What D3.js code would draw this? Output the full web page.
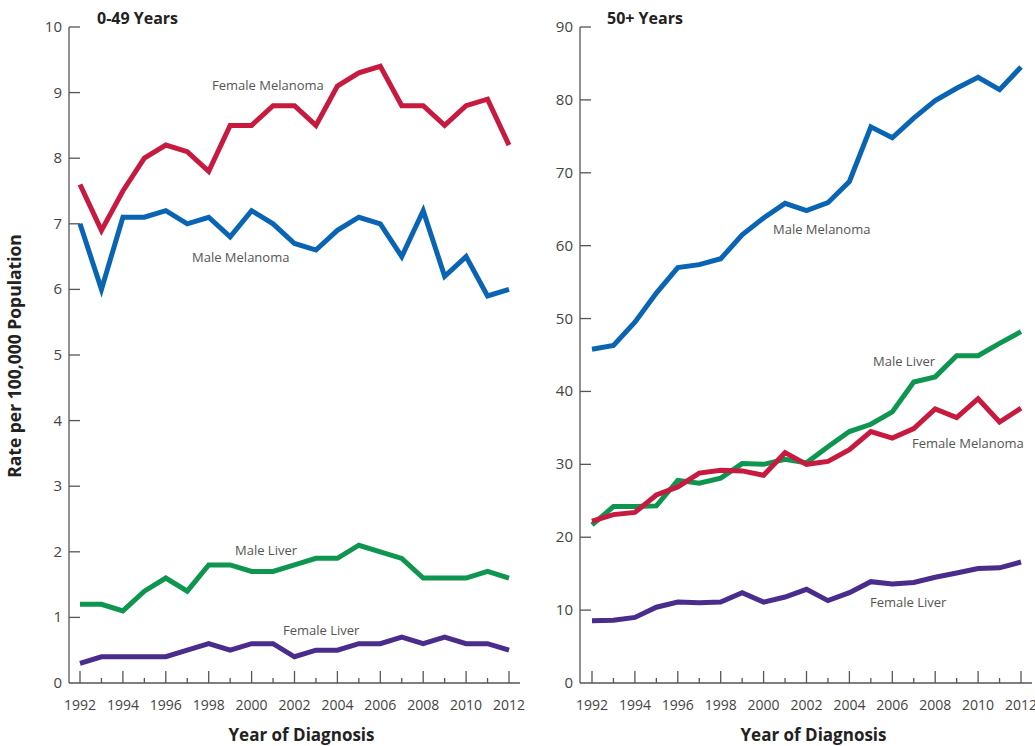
<!DOCTYPE html>
<html><head><meta charset="utf-8">
<script src="https://cdn.jsdelivr.net/npm/d3@7"></script>
<style>body{margin:0;background:#fff;} svg{display:block;}</style>
</head><body>
<svg id="c" width="1035" height="746"></svg>
<script>
const years = d3.range(1992, 2013);
const xTickLabels = [1992,1994,1996,1998,2000,2002,2004,2006,2008,2010,2012];
const leftYTicks = [0,1,2,3,4,5,6,7,8,9,10];
const rightYTicks = [0,10,20,30,40,50,60,70,80,90];

// 0-49 Years
const youngFemaleMelanoma = [7.6,6.9,7.5,8.0,8.2,8.1,7.8,8.5,8.5,8.8,8.8,8.5,9.1,9.3,9.4,8.8,8.8,8.5,8.8,8.9,8.2];
const youngMaleMelanoma   = [7.0,6.0,7.1,7.1,7.2,7.0,7.1,6.8,7.2,7.0,6.7,6.6,6.9,7.1,7.0,6.5,7.2,6.2,6.5,5.9,6.0];
const youngMaleLiver      = [1.2,1.2,1.1,1.4,1.6,1.4,1.8,1.8,1.7,1.7,1.8,1.9,1.9,2.1,2.0,1.9,1.6,1.6,1.6,1.7,1.6];
const youngFemaleLiver    = [0.3,0.4,0.4,0.4,0.4,0.5,0.6,0.5,0.6,0.6,0.4,0.5,0.5,0.6,0.6,0.7,0.6,0.7,0.6,0.6,0.5];

// 50+ Years
const oldMaleMelanoma   = [45.8,46.3,49.5,53.5,57.0,57.4,58.2,61.5,63.8,65.8,64.8,65.9,68.8,76.3,74.8,77.5,79.9,81.6,83.1,81.4,84.5];
const oldMaleLiver      = [21.7,24.2,24.2,24.3,27.8,27.4,28.1,30.1,30.0,30.7,30.2,32.4,34.5,35.5,37.2,41.3,42.0,44.9,44.9,46.6,48.2];
const oldFemaleMelanoma = [22.2,23.1,23.4,25.8,26.9,28.8,29.2,29.1,28.5,31.6,30.0,30.4,32.0,34.5,33.6,34.9,37.6,36.4,39.0,35.8,37.7];
const oldFemaleLiver    = [8.55,8.6,9.0,10.4,11.1,11.0,11.1,12.4,11.1,11.8,12.85,11.3,12.4,13.9,13.6,13.8,14.5,15.1,15.7,15.8,16.6];

const colors = {fm:"#c8193f", mm:"#0a64b4", ml:"#0e9650", fl:"#4a2c8c"};

const svg = d3.select("#c");
const FONT = "'Open Sans', 'Noto Sans', sans-serif";

function panel(cfg){
  const g = svg.append("g");
  const x = d3.scaleLinear().domain([1992,2012]).range([cfg.x0, cfg.x1]);
  const y = d3.scaleLinear().domain([0, cfg.ymax]).range([683, 27]);
  const axisColor = "#555";
  g.append("line").attr("x1",cfg.ax).attr("x2",cfg.ax).attr("y1",y(cfg.ymax)).attr("y2",683)
    .attr("stroke",axisColor).attr("stroke-width",1.3);
  g.append("line").attr("x1",cfg.ax).attr("x2",cfg.x1+11).attr("y1",683).attr("y2",683)
    .attr("stroke",axisColor).attr("stroke-width",1.3);
  cfg.yticks.forEach(t=>{
    if(t>0) g.append("line").attr("x1",cfg.ax).attr("x2",cfg.ax+11).attr("y1",y(t)).attr("y2",y(t))
      .attr("stroke",axisColor).attr("stroke-width",1.3);
    g.append("text").attr("x",cfg.ax-7).attr("y",y(t)+5).attr("text-anchor","end")
      .attr("font-family",FONT).attr("font-size",15).attr("fill","#444").text(t);
  });
  years.forEach(yr=>{
    const major = (yr%2===0);
    g.append("line").attr("x1",x(yr)).attr("x2",x(yr)).attr("y1",683).attr("y2",683-(major?12:5))
      .attr("stroke",axisColor).attr("stroke-width",1.3);
  });
  xTickLabels.forEach(yr=>{
    g.append("text").attr("x",x(yr)).attr("y",710).attr("text-anchor","middle")
      .attr("font-family",FONT).attr("font-size",14).attr("fill","#444").text(yr);
  });
  g.append("text").attr("x",cfg.titleX).attr("y",24).attr("font-family",FONT).attr("font-weight","bold")
    .attr("font-size",16).attr("fill","#222").text(cfg.title);
  g.append("text").attr("x",(cfg.x0+cfg.x1)/2+7).attr("y",741).attr("text-anchor","middle")
    .attr("font-family",FONT).attr("font-weight","bold").attr("font-size",17).attr("fill","#222").text("Year of Diagnosis");
  const line = d3.line().x((d,i)=>x(years[i])).y(d=>y(d));
  cfg.series.forEach(s=>{
    g.append("path").datum(s.values).attr("d",line).attr("fill","none").attr("stroke",s.color)
      .attr("stroke-width",5).attr("stroke-linejoin","miter");
  });
  cfg.labels.forEach(l=>{
    g.append("text").attr("x",l.x).attr("y",l.y).attr("font-family",FONT).attr("font-size",13)
      .attr("fill","#555").text(l.text);
  });
}

panel({x0:80, x1:509, ax:69, ymax:10, yticks:leftYTicks, title:"0-49 Years", titleX:97,
  series:[
    {values:youngMaleLiver, color:colors.ml},
    {values:youngFemaleLiver, color:colors.fl},
    {values:youngMaleMelanoma, color:colors.mm},
    {values:youngFemaleMelanoma, color:colors.fm}],
  labels:[
    {text:"Female Melanoma", x:212, y:90},
    {text:"Male Melanoma", x:192, y:262},
    {text:"Male Liver", x:235, y:555},
    {text:"Female Liver", x:283, y:635}]});

panel({x0:592, x1:1021, ax:580, ymax:90, yticks:rightYTicks, title:"50+ Years", titleX:607,
  series:[
    {values:oldFemaleLiver, color:colors.fl},
    {values:oldMaleMelanoma, color:colors.mm},
    {values:oldMaleLiver, color:colors.ml},
    {values:oldFemaleMelanoma, color:colors.fm}],
  labels:[
    {text:"Male Melanoma", x:773, y:234},
    {text:"Male Liver", x:873, y:366},
    {text:"Female Melanoma", x:912, y:448},
    {text:"Female Liver", x:870, y:607}]});

svg.append("text").attr("transform","translate(21,356) rotate(-90)").attr("text-anchor","middle")
  .attr("font-family",FONT).attr("font-weight","bold").attr("font-size",17.5).attr("fill","#222")
  .text("Rate per 100,000 Population");
</script>
</body></html>
